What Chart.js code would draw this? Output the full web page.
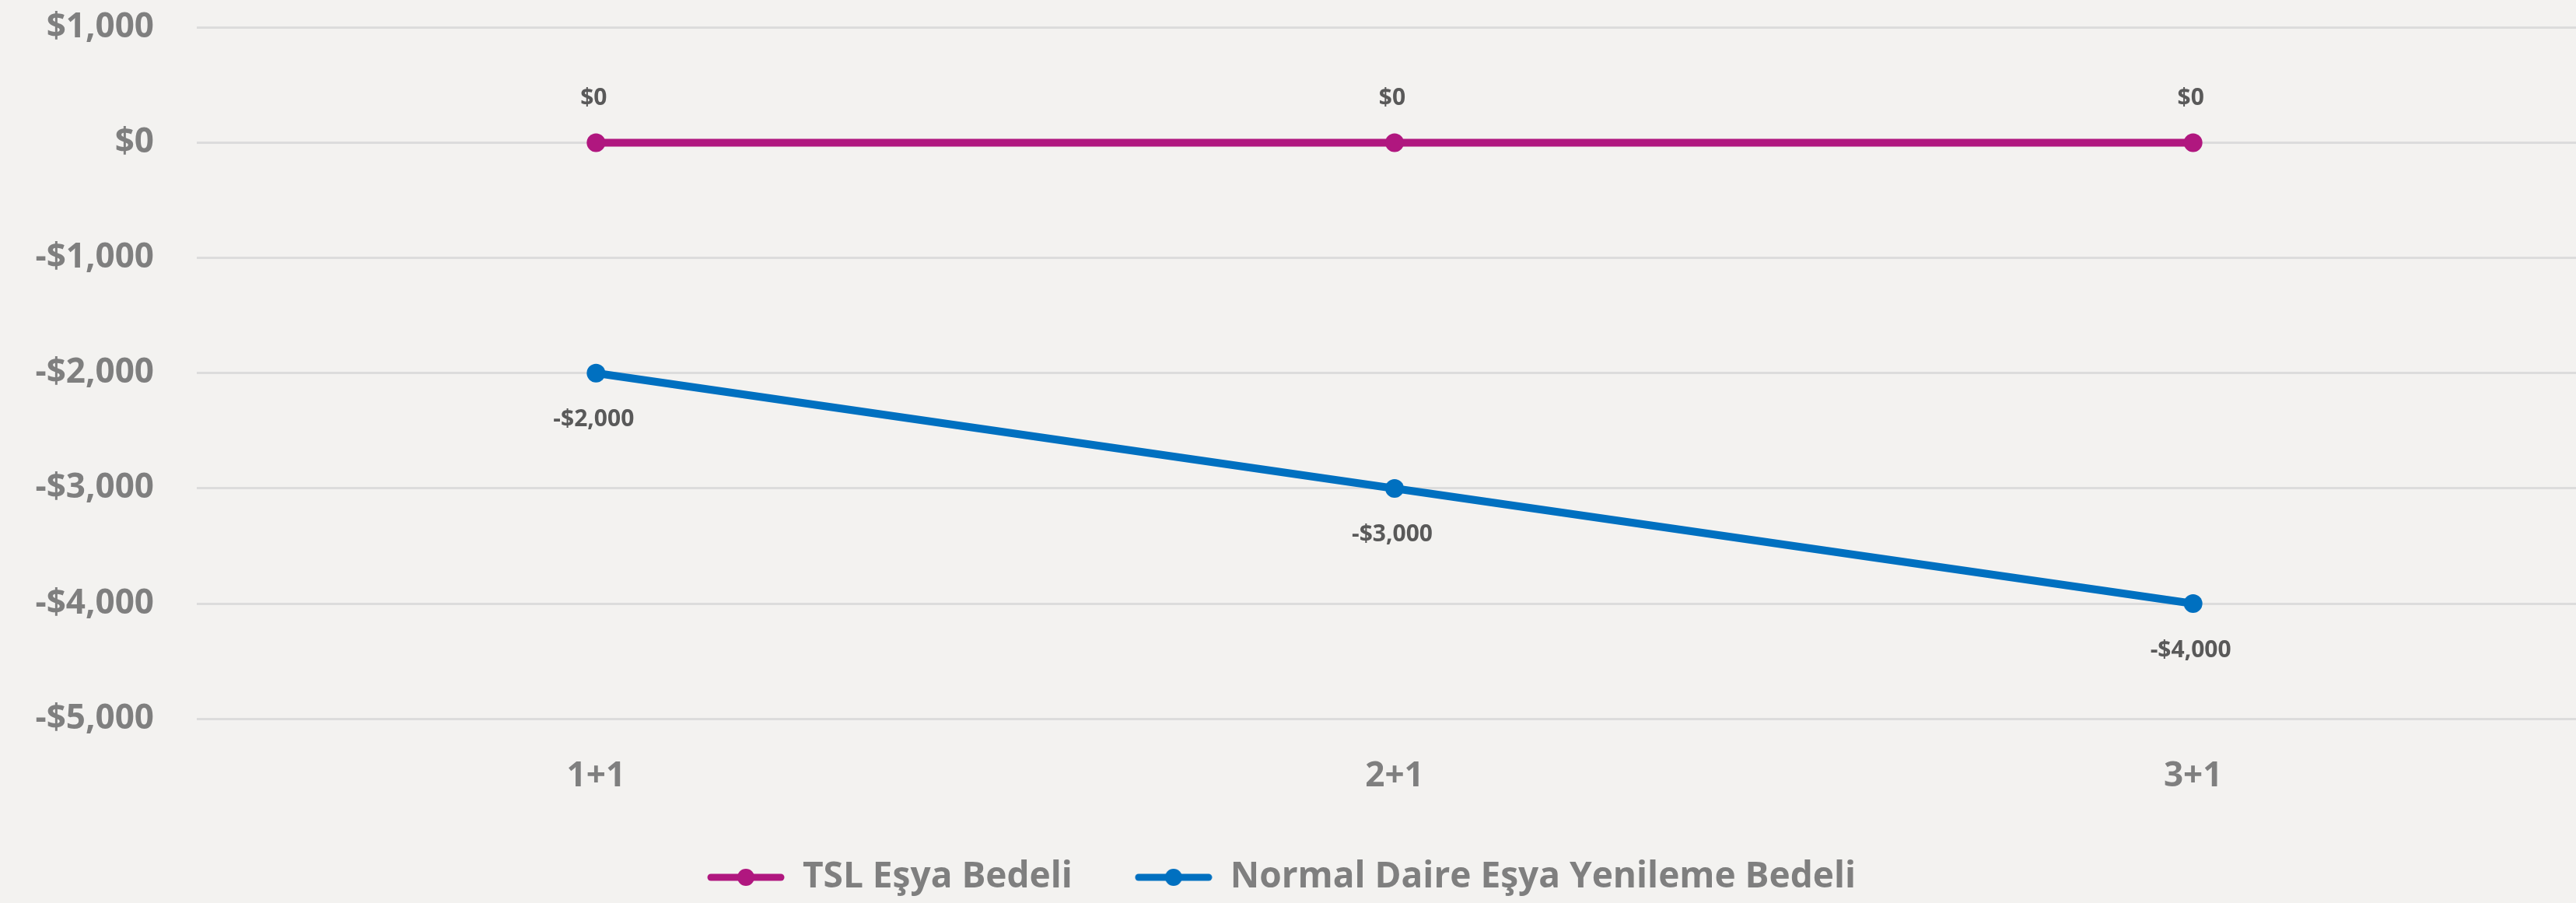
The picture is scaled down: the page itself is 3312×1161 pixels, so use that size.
<!DOCTYPE html>
<html>
<head>
<meta charset="utf-8">
<script src="https://cdn.jsdelivr.net/npm/chart.js@4"></script>
<style>
  html, body { margin: 0; padding: 0; overflow: hidden; background: #f3f2f0; }
  #wrap { width: 3345px; height: 1207px; margin-top: -46px; }
</style>
</head>
<body>
<div id="wrap"><canvas id="lineChart" width="3345" height="1207"></canvas></div>
<script>
let categories = ['1+1', '2+1', '3+1'];
let tslValues = [0, 0, 0];
let normalValues = [-2000, -3000, -4000];
let seriesNames = ['TSL Eşya Bedeli', 'Normal Daire Eşya Yenileme Bedeli'];
let seriesColors = ['#b0177f', '#0070c0'];

let money = function (v) {
    return (v < 0 ? '-' : '') + '$' + Math.abs(v).toLocaleString('en-US');
};

let legendMark = function (color) {
    let c = document.createElement('canvas');
    c.width = 100;
    c.height = 26;
    let g = c.getContext('2d');
    g.strokeStyle = color;
    g.lineWidth = 9;
    g.lineCap = 'round';
    g.beginPath();
    g.moveTo(5, 13);
    g.lineTo(95, 13);
    g.stroke();
    g.fillStyle = color;
    g.beginPath();
    g.arc(50, 13, 11, 0, Math.PI * 2);
    g.fill();
    return c;
};
let marks = seriesColors.map(legendMark);

// value labels: first series above the points, second below
let valueLabels = {
    id: 'valueLabels',
    afterDatasetsDraw(chart) {
        let g = chart.ctx;
        g.save();
        g.font = 'bold 30px "Open Sans"';
        g.fillStyle = '#595959';
        g.textAlign = 'center';
        g.textBaseline = 'middle';
        chart.data.datasets.forEach((ds, i) => {
            let meta = chart.getDatasetMeta(i);
            meta.data.forEach((pt, j) => {
                let dy = i === 0 ? -57 : 60;
                g.fillText(money(ds.data[j]), pt.x - 3, pt.y + dy);
            });
        });
        g.restore();
    }
};

// legend sits a bit left of the canvas centre
let legendShift = {
    id: 'legendShift',
    afterLayout(chart) {
        chart.legend.left -= 25;
        chart.legend.right -= 25;
    }
};

let ctx = document.getElementById('lineChart').getContext('2d');

window.myLine = new Chart(ctx, {
    type: 'line',
    data: {
        labels: categories,
        datasets: [{
            label: seriesNames[0],
            data: tslValues,
            borderColor: seriesColors[0],
            backgroundColor: seriesColors[0],
            borderWidth: 10,
            pointRadius: 12,
            pointBorderWidth: 0,
            fill: false
        }, {
            label: seriesNames[1],
            data: normalValues,
            borderColor: seriesColors[1],
            backgroundColor: seriesColors[1],
            borderWidth: 10,
            pointRadius: 12,
            pointBorderWidth: 0,
            fill: false
        }]
    },
    options: {
        responsive: false,
        animation: false,
        layout: { padding: { top: 6, right: 0, bottom: 0, left: 0 } },
        scales: {
            x: {
                offset: true,
                afterFit: function (s) { s.height = s.height - 40; },
                grid: { display: false },
                border: { display: false },
                ticks: { color: '#7f7f7f', font: { family: 'Open Sans', size: 44, weight: 'bold' }, padding: 40 }
            },
            y: {
                min: -5000,
                max: 1000,
                afterFit: function (s) { s.width = 253; },
                grid: { color: '#dcdcdc', lineWidth: 3, drawTicks: false },
                border: { display: false },
                ticks: {
                    stepSize: 1000,
                    color: '#7f7f7f',
                    padding: 55,
                    font: { family: 'Open Sans', size: 44, weight: 'bold' },
                    callback: function (v) { return money(v); }
                }
            }
        },
        plugins: {
            tooltip: { enabled: false },
            legend: {
                position: 'bottom',
                labels: {
                    usePointStyle: true,
                    pointStyleWidth: 100,
                    padding: 80,
                    color: '#7f7f7f',
                    font: { family: 'Open Sans', size: 46, weight: 'bold' },
                    generateLabels: function (chart) {
                        let items = Chart.defaults.plugins.legend.labels.generateLabels(chart);
                        items.forEach((it, i) => { it.pointStyle = marks[i]; });
                        return items;
                    }
                }
            }
        }
    },
    plugins: [valueLabels, legendShift]
});
</script>
</body>
</html>
